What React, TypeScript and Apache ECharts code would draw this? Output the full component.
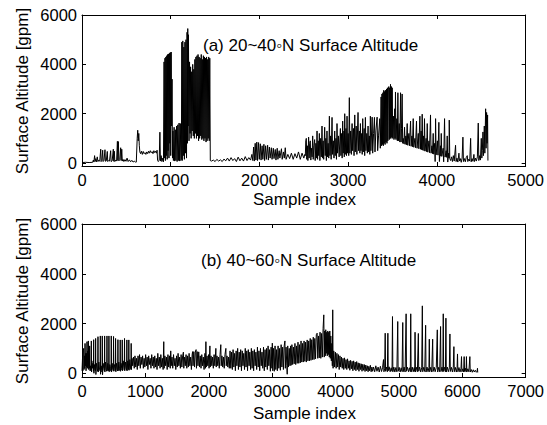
import { useEffect, useRef } from 'react';
import * as echarts from 'echarts';

// ---------- Panel (a) 20~40N : [sample index, surface altitude gpm] ----------
const a1 = [[0,20],[40,30],[80,20],[120,30],[128,120],[134,40],[142,300],[148,60],[156,180],[164,50],[172,250],[180,60],[190,120],[200,70],[211,560],[216,60],[224,90],[233,520],[238,60],[248,110],[259,540],[264,70],[274,90],[285,470],[290,60],[300,100],[310,80],[323,500],[328,60],[340,90],[353,560],[358,70],[364,480],[370,60],[380,120],[390,80],[399,880],[404,100],[410,870],[416,90],[426,140],[436,620],[441,100],[448,560],[454,80],[462,150],[472,60],[484,140],[496,70],[508,200],[520,60],[534,130],[548,50],[562,110],[576,40],[590,80],[604,30],[612,40]];
const a2 = [[617,50],[622,1000],[628,1330],[634,900],[640,1200],[646,700],[652,450],[660,380],[670,480],[680,350],[690,470],[700,380],[710,420],[720,350],[730,450],[740,380],[750,480],[760,400],[770,500],[780,420],[790,460],[800,380],[810,500],[820,420],[830,480],[840,400],[846,520],[852,100],[860,60],[870,120],[878,1250],[884,80],[892,300],[900,60],[910,200],[918,50]];
const a3 = [[925,4100],[930,200],[935,4250],[940,100],[945,4300],[950,300],[955,4350],[960,150],[965,4400],[970,500],[975,4420],[980,200],[985,4450],[990,800],[995,4480],[1000,300],[1005,4500],[1010,1500],[1015,3400],[1020,200]];
const a4 = [[1025,1300],[1030,100],[1038,1450],[1044,80],[1052,1350],[1058,100],[1066,1500],[1072,60],[1080,1550],[1086,100],[1094,1620],[1100,80],[1108,1600],[1114,100]];
const a5 = [[1120,150],[1125,4900],[1130,100],[1136,4950],[1142,300],[1148,4700],[1154,150],[1160,4900],[1166,400],[1172,5000],[1178,200],[1184,5300],[1188,800],[1192,5450],[1196,1500],[1200,5200],[1206,900],[1212,4100],[1218,1200],[1224,3900],[1230,1000],[1236,3700],[1242,1300],[1248,4000],[1254,1100],[1260,3800],[1266,1000],[1272,4200],[1278,1200],[1284,4300],[1290,1000],[1296,4350],[1302,1100],[1308,4400],[1314,900],[1320,4300],[1326,1000],[1332,4250],[1338,1100],[1344,4400],[1350,950],[1356,4200],[1362,1000],[1368,4350],[1374,900],[1380,4300],[1386,1000],[1392,4250],[1398,850],[1404,4300],[1410,900],[1416,4200],[1422,1000],[1428,4300],[1434,900],[1440,4250],[1446,100]];
const a6 = [[1460,80],[1480,120],[1500,60],[1520,150],[1540,80],[1560,130],[1580,60],[1600,160],[1620,90],[1640,200],[1660,80],[1680,220],[1700,100],[1720,180],[1740,60],[1760,240],[1780,90],[1800,200],[1820,80],[1840,260],[1860,100],[1880,220],[1900,120],[1915,350],[1925,100],[1934,650],[1942,80],[1952,800],[1960,120],[1970,850],[1978,100],[1990,830],[1998,150],[2010,780],[2018,120],[2030,700],[2038,150],[2050,760],[2058,100],[2070,700],[2078,150],[2092,720],[2100,120],[2112,650],[2120,200],[2134,620],[2142,150],[2156,600],[2164,180],[2178,550],[2186,120],[2200,600],[2208,150],[2222,500],[2230,200],[2248,580],[2256,150],[2270,450],[2280,200],[2291,620],[2300,150],[2320,350],[2340,180],[2360,400],[2380,150],[2400,380],[2420,200],[2440,450],[2460,150],[2480,400],[2500,200],[2512,350]];
const a7 = [[2517,300],[2522,900],[2528,1000],[2533,150],[2540,700],[2546,100],[2554,1050],[2560,200],[2566,800],[2573,900],[2579,120],[2586,600],[2593,250],[2600,1100],[2606,150],[2613,700],[2622,950],[2628,100],[2636,800],[2642,200],[2649,1300],[2655,150],[2662,900],[2668,300],[2675,1200],[2681,100],[2690,1000],[2697,250],[2705,1500],[2711,200],[2718,900],[2724,150],[2735,1450],[2741,300],[2748,1000],[2754,100],[2761,1300],[2767,250],[2774,800],[2781,200],[2788,1900],[2794,300],[2802,1100],[2808,150],[2818,1850],[2824,350],[2832,900],[2840,200],[2848,1300],[2854,300],[2862,1000],[2868,150],[2874,1600],[2880,400],[2890,1100],[2898,250],[2912,1400],[2918,300],[2926,1200],[2932,200],[2938,1700],[2944,400],[2952,1300],[2956,250],[2961,2000],[2967,350],[2975,1400],[2981,300],[2987,1900],[2993,400],[3000,1200],[3006,300],[3013,2650],[3019,400],[3028,1300],[3036,350],[3044,1600],[3050,500],[3060,1400],[3066,300],[3074,1950],[3080,450],[3090,1500],[3098,350],[3111,2050],[3117,500],[3126,1300],[3132,400],[3138,1600],[3144,500],[3152,1200],[3158,350],[3164,1800],[3170,450],[3180,1400],[3186,300],[3194,1850],[3200,500],[3210,1200],[3216,400],[3224,1500],[3230,450],[3238,1100],[3244,350],[3250,1900]];
const a8 = [[3256,500],[3270,1860],[3276,400],[3286,1200],[3296,1850],[3302,450],[3312,1300],[3326,1860],[3332,500],[3342,1100],[3356,1800],[3362,600],[3371,2680],[3376,700],[3381,2800],[3386,750],[3391,2850],[3396,700],[3401,2950],[3406,800],[3411,2900],[3416,750],[3421,2950],[3426,850],[3432,3000],[3437,800],[3442,3050],[3447,900],[3452,3000],[3458,3100],[3463,950],[3468,3050],[3473,1000],[3477,3190],[3482,1000],[3487,3100],[3492,1050],[3496,3050],[3502,1000],[3510,1900],[3516,950],[3524,2200],[3528,1000],[3533,2880],[3539,950],[3548,1800],[3554,900],[3560,2850],[3566,900],[3575,1600],[3582,850],[3590,2850],[3596,850],[3601,1400],[3608,2800],[3614,800]];
const a9 = [[3620,1000],[3628,780],[3635,1450],[3641,760],[3650,1100],[3656,740],[3665,1600],[3671,720],[3684,1200],[3690,700],[3703,1700],[3709,680],[3718,1100],[3724,660],[3733,1800],[3739,640],[3752,1000],[3758,620],[3770,1700],[3776,600],[3790,1200],[3796,580],[3808,1900],[3814,560],[3822,1300],[3828,540],[3834,1980],[3840,520],[3850,1100],[3855,500],[3860,1800],[3866,480],[3878,1000],[3884,460],[3891,1600],[3897,440],[3910,900],[3916,420],[3928,1950],[3934,400],[3944,700],[3950,380],[3958,1200],[3964,360],[3975,800],[3980,60],[3985,1800],[3991,330],[4005,900],[4012,320],[4022,1650],[4028,60],[4040,700],[4044,280],[4049,1200],[4055,270],[4070,600],[4076,50],[4086,1800],[4092,240],[4104,500],[4110,230],[4116,1100],[4122,40],[4132,400],[4136,200],[4139,1740],[4145,180]];
const a10 = [[4155,100],[4165,250],[4175,60],[4185,300],[4195,80],[4210,720],[4216,60],[4226,200],[4236,40],[4248,400],[4254,80],[4264,180],[4274,30],[4284,200],[4293,1050],[4299,60],[4310,180],[4320,50],[4330,220],[4342,300],[4348,60],[4360,160],[4370,80],[4380,1000],[4386,50],[4396,180],[4406,70],[4417,350],[4423,60],[4434,200],[4444,80],[4456,250],[4466,1620],[4472,100],[4482,300],[4490,120],[4500,1000],[4506,200],[4512,500],[4519,1260],[4525,300],[4534,1500],[4540,400],[4549,2200],[4554,600],[4560,2050],[4565,800],[4571,1950],[4575,100]];

// ---------- Panel (b) 40~60N ----------
const b1 = [[0,100],[8,600],[14,100],[20,900],[27,1000],[32,150],[38,700],[43,200],[48,1200],[54,300],[60,800],[64,100],[69,800],[74,250],[79,1270],[85,200],[92,900],[96,300],[100,1300],[106,150],[112,700],[116,200],[121,1100],[127,100]];
const b2 = [[135,300],[144,100],[147,1300],[151,50],[160,400],[168,200],[176,500],[181,80],[184,1350],[188,0],[196,350],[204,150],[212,100],[215,1400],[219,-50],[228,400],[238,200],[248,80],[252,1470],[256,50],[266,450],[276,150],[285,100],[289,1500],[293,-40],[303,300],[312,120],[316,50],[320,1500],[324,-60],[334,400],[344,200],[353,100],[357,1500],[361,50],[371,450],[381,150],[390,80],[394,1500],[398,100],[407,400],[416,200],[421,100],[425,1500],[429,60],[439,350],[449,200],[458,80],[462,1500],[466,50],[476,400],[486,150],[494,100],[498,1480],[502,80],[512,350],[522,200],[526,100],[530,1400],[534,60],[545,400],[555,150],[563,90],[567,1350],[571,100],[581,450],[591,200],[599,100],[603,1340],[607,80],[617,400],[627,200],[631,120],[635,1340],[639,100],[650,500],[660,250],[667,120],[671,1400],[675,100],[685,450],[696,200],[704,120],[708,1340],[712,100],[722,500],[732,250],[735,150],[739,1340],[743,120],[755,550],[765,250],[772,150],[776,1200],[780,150],[790,600]];
const b3 = [[800,300],[812,650],[824,200],[836,700],[848,250],[860,600],[872,150],[884,700],[896,300],[908,750],[920,200],[932,650],[944,350],[956,700],[968,200],[980,600],[992,250],[1004,750],[1016,300],[1028,650],[1040,150],[1052,700],[1064,350],[1076,600],[1088,200],[1100,750],[1112,300],[1124,650],[1136,200],[1148,700],[1160,250],[1172,600],[1184,150],[1196,800],[1208,300],[1220,650],[1232,200],[1244,750],[1256,250],[1268,600],[1280,150],[1290,1270],[1296,200],[1308,700],[1320,300],[1332,650],[1344,150],[1356,750],[1368,250],[1380,700],[1392,200],[1400,900],[1408,300],[1420,650],[1432,200],[1444,750],[1456,300],[1468,600],[1480,150],[1492,700],[1504,250],[1516,800],[1528,300],[1540,650],[1552,200],[1564,750],[1576,250],[1588,700],[1600,850],[1606,200],[1618,650],[1630,300],[1642,750],[1654,200],[1666,700],[1678,250],[1690,800],[1702,300],[1714,650],[1726,150],[1738,750],[1745,870],[1752,300],[1764,870],[1776,250],[1788,850],[1800,950],[1806,200],[1818,870],[1830,300],[1842,860],[1854,250],[1866,700],[1878,200],[1890,750],[1902,300],[1914,650],[1926,150],[1940,800],[1948,200],[1955,1270],[1961,250],[1973,700],[1985,300],[1997,750],[2005,200],[2018,1100],[2024,250],[2036,700],[2048,300],[2060,650],[2072,200],[2084,750],[2096,300],[2112,1000],[2118,250],[2130,700],[2142,300],[2154,650],[2166,200],[2178,750],[2190,1150],[2196,300],[2208,700],[2220,250],[2232,650],[2244,200],[2256,750],[2270,1000],[2276,300],[2288,700],[2300,250],[2312,650],[2324,200]];
const b4 = [[2336,900],[2348,200],[2360,850],[2372,150],[2384,950],[2396,250],[2408,800],[2420,100],[2432,900],[2444,300],[2456,1000],[2468,150],[2480,850],[2492,250],[2504,950],[2516,100],[2528,900],[2540,300],[2552,800],[2564,150],[2576,1000],[2588,250],[2600,900],[2612,100],[2624,950],[2636,300],[2648,850],[2660,150],[2672,1000],[2684,200],[2696,900],[2708,100],[2720,950],[2732,300],[2744,850],[2756,150],[2768,1050],[2780,250],[2792,900],[2804,100],[2816,1000],[2828,300],[2840,850],[2852,200],[2864,1050],[2876,100],[2888,950],[2900,250],[2912,1000],[2924,150],[2936,1100],[2948,300],[2960,950],[2972,80],[2984,1050],[2996,200],[3003,1210],[3010,100],[3022,1000],[3034,80],[3046,1100],[3058,150],[3070,950],[3082,100],[3094,1100],[3106,200],[3118,1000],[3130,120],[3142,1150],[3154,250],[3166,1050],[3178,150],[3190,1100],[3202,1300],[3208,200],[3220,1050],[3232,300],[3238,-40],[3246,1100],[3258,250],[3270,1000],[3282,300],[3291,1100],[3300,320],[3312,1150],[3324,350],[3336,1050],[3348,380],[3360,1200],[3372,350],[3384,1100],[3396,400],[3408,1250],[3420,400],[3432,1150],[3444,420],[3456,1300],[3468,450],[3480,1200],[3492,450],[3504,1300],[3516,480],[3528,1250],[3540,450],[3553,1340],[3565,500],[3577,1300],[3589,500],[3601,1400],[3613,520],[3625,1350],[3637,550],[3649,1450],[3661,550],[3673,1400],[3685,580],[3697,1550],[3710,1610],[3720,600],[3732,1500],[3744,620],[3756,1650],[3768,600],[3780,1600],[3792,650],[3804,1800],[3815,2348],[3822,650],[3830,1700],[3838,700],[3846,1750],[3854,800],[3862,1650],[3870,700],[3878,1700],[3886,750],[3894,1650],[3902,650],[3910,1700],[3918,600],[3926,1500],[3934,500],[3942,1200],[3950,300],[3956,2550],[3962,200],[3972,900]];
const b5 = [[3985,250],[3998,850],[4010,200],[4022,800],[4034,250],[4046,750],[4058,150],[4070,700],[4082,250],[4094,650],[4106,200],[4118,600],[4130,150],[4142,620],[4154,200],[4166,550],[4178,150],[4190,580],[4202,200],[4214,500],[4226,120],[4238,520],[4250,180],[4262,480],[4274,100],[4286,500],[4298,150],[4310,450],[4322,100],[4334,470],[4346,150],[4358,420],[4370,80],[4382,400],[4394,150],[4406,380],[4418,80],[4430,360],[4442,120],[4454,350],[4466,70],[4478,330],[4490,100],[4502,300],[4514,60],[4526,280],[4538,100],[4550,320],[4562,60],[4574,250],[4586,80]];
const b6 = [[4600,250],[4618,60],[4636,300],[4654,80],[4672,250],[4690,50],[4708,280],[4726,70],[4742,220],[4757,550],[4764,60],[4776,200],[4784,1610],[4790,80],[4806,250],[4818,60],[4826,1610],[4832,100],[4846,260],[4862,60],[4878,220],[4892,80],[4899,2280],[4905,60],[4920,250],[4936,50],[4952,230],[4968,60],[4982,2080],[4988,80],[5004,240],[5020,50],[5036,220],[5050,70],[5061,2040],[5067,60],[5082,250],[5098,50],[5114,2390],[5120,80],[5136,240],[5152,60],[5168,220],[5180,70],[5187,2390],[5193,50],[5210,250],[5226,60],[5242,230],[5250,70],[5255,1650],[5261,50],[5276,240],[5292,60],[5307,1600],[5313,80],[5328,250],[5344,50],[5360,220],[5370,2710],[5376,60],[5392,240],[5408,70],[5422,1930],[5428,50],[5444,250],[5460,60],[5474,230],[5480,1370],[5486,60],[5502,240],[5518,50],[5533,1370],[5539,70],[5556,250],[5572,60],[5590,230],[5606,1745],[5612,50],[5628,240],[5644,60],[5658,1880],[5664,70],[5680,250],[5694,60],[5700,2390],[5706,80],[5720,240],[5734,60],[5742,2215],[5748,50],[5764,250],[5780,60],[5796,220],[5805,1580],[5811,70],[5828,240],[5844,50],[5858,230],[5868,1070],[5874,60],[5890,240],[5906,50],[5918,220],[5925,777],[5931,60],[5948,230],[5964,50],[5980,200],[5988,670],[5994,60],[6010,180],[6022,50],[6030,670],[6036,70],[6050,200],[6060,60],[6066,670],[6072,50],[6088,180],[6104,60],[6120,670],[6126,50],[6142,150],[6158,40],[6174,140],[6190,50],[6206,120],[6222,40],[6234,80],[6240,200],[6244,30]];

const seriesA = [...a1, ...a2, ...a3, ...a4, ...a5, ...a6, ...a7, ...a8, ...a9, ...a10];
const seriesB = [...b1, ...b2, ...b3, ...b4, ...b5, ...b6];

const yTicks = [0, 2000, 4000, 6000];
const titleA = '(a) 20~40';
const titleB = '(b) 40~60';
const titleRest = 'N Surface Altitude';
const yTitle = 'Surface Altitude [gpm]';
const xTitle = 'Sample index';

const FONT = '"Liberation Sans", Arial, Helvetica, sans-serif';
const FS = 16.5;
const plain = (v: number) => String(v);

function xAxes(grid: number, max: number) {
  const common = {
    gridIndex: grid, type: 'value' as const, min: 0, max, interval: 1000,
    splitLine: { show: false },
    axisLine: { show: true, onZero: false, lineStyle: { color: '#000', width: 1 } },
    axisTick: { show: true, inside: true, length: 4, lineStyle: { color: '#000', width: 1 } },
  };
  return [
    { ...common, position: 'bottom', axisLabel: { show: true, color: '#000', fontFamily: FONT, fontSize: FS, margin: 5, formatter: plain } },
    { ...common, position: 'top', axisLabel: { show: false } },
  ];
}
function yAxes(grid: number, min: number) {
  const common = {
    gridIndex: grid, type: 'value' as const, min, max: 6000,
    splitLine: { show: false },
    axisLine: { show: true, onZero: false, lineStyle: { color: '#000', width: 1 } },
    axisTick: { show: true, inside: true, length: 4, customValues: yTicks, lineStyle: { color: '#000', width: 1 } },
  };
  return [
    { ...common, position: 'left', axisLabel: { show: true, customValues: yTicks, color: '#000', fontFamily: FONT, fontSize: FS, margin: 5, formatter: plain } },
    { ...common, position: 'right', axisLabel: { show: false } },
  ];
}

const textStyle = (x: number, y: number, text: string, rotation = 0, align = 'center') => ({
  type: 'text', x, y, rotation,
  style: { text, fill: '#000', font: `${FS + 0.5}px ${FONT}`, textAlign: align, textVerticalAlign: 'middle' },
});

const option = {
  animation: false,
  backgroundColor: '#fff',
  grid: [
    { left: 82, top: 15, width: 445, height: 151 },
    { left: 82, top: 224, width: 445, height: 153 },
  ],
  xAxis: [...xAxes(0, 5000), ...xAxes(1, 7000)],
  yAxis: [...yAxes(0, -120), ...yAxes(1, -150)],
  series: [
    { type: 'line', xAxisIndex: 0, yAxisIndex: 0, data: seriesA, showSymbol: false, symbol: 'none', lineStyle: { color: '#000', width: 1 }, clip: true },
    { type: 'line', xAxisIndex: 2, yAxisIndex: 2, data: seriesB, showSymbol: false, symbol: 'none', lineStyle: { color: '#000', width: 1 }, clip: true },
  ],
  graphic: [
    {
      type: 'text', x: 203, y: 45,
      style: { text: `{t|${titleA}}{d|◦}{t|${titleRest}}`, fill: '#000', textVerticalAlign: 'middle',
        rich: { t: { fontFamily: FONT, fontSize: FS + 0.5, fill: '#000' }, d: { fontFamily: FONT, fontSize: FS, fill: '#000' } } },
    },
    {
      type: 'text', x: 201, y: 260,
      style: { text: `{t|${titleB}}{d|◦}{t|${titleRest}}`, fill: '#000', textVerticalAlign: 'middle',
        rich: { t: { fontFamily: FONT, fontSize: FS + 0.5, fill: '#000' }, d: { fontFamily: FONT, fontSize: FS, fill: '#000' } } },
    },
    textStyle(22, 91, yTitle, Math.PI / 2),
    textStyle(22, 301, yTitle, Math.PI / 2),
    textStyle(304.5, 199, xTitle),
    textStyle(304.5, 413, xTitle),
  ],
};

export default function App() {
  const ref = useRef<HTMLDivElement>(null);
  useEffect(() => {
    const chart = echarts.init(ref.current!, null, { renderer: 'svg' });
    chart.setOption(option as any);
    return () => chart.dispose();
  }, []);
  return <div ref={ref} style={{ position: 'fixed', left: 0, top: 0, width: 547, height: 425, background: '#fff' }} />;
}
